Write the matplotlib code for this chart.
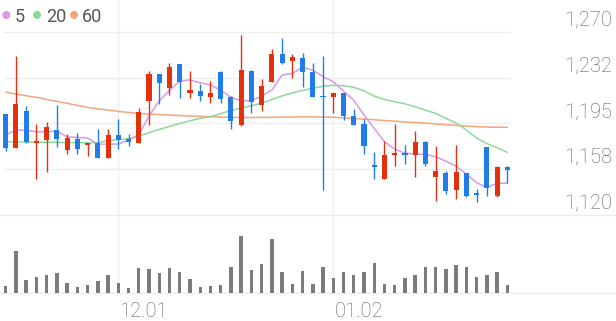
import matplotlib
matplotlib.use("Agg")
import matplotlib.pyplot as plt
from matplotlib.patches import Ellipse
from matplotlib.lines import Line2D

# ---------------- data ----------------
dates = ["11.16", "11.17", "11.20", "11.21", "11.22", "11.23", "11.24", "11.27", "11.28", "11.29",
         "11.30", "12.01", "12.04", "12.05", "12.06", "12.07", "12.08", "12.11", "12.12", "12.13",
         "12.14", "12.15", "12.18", "12.19", "12.20", "12.21", "12.22", "12.26", "12.27", "12.28",
         "12.29", "12.30", "01.02", "01.03", "01.04", "01.05", "01.08", "01.09", "01.10", "01.11",
         "01.12", "01.15", "01.16", "01.17", "01.18", "01.19", "01.22", "01.23", "01.24", "01.25"]

opens = [1202.3, 1175.0, 1205.3, 1179.2, 1181.8, 1189.4, 1173.0, 1182.3, 1176.9, 1179.1,
         1167.0, 1185.1, 1182.3, 1179.3, 1213.2, 1235.3, 1223.6, 1243.5, 1219.5, 1221.1,
         1216.7, 1237.2, 1216.7, 1193.5, 1238.0, 1209.9, 1229.0, 1251.7, 1246.2, 1248.2,
         1237.2, 1217.8, 1216.7, 1220.0, 1201.2, 1194.4, 1161.3, 1149.8, 1168.9, 1171.1,
         1168.9, 1179.9, 1150.8, 1154.5, 1140.8, 1154.0, 1137.7, 1175.3, 1135.5, 1159.5]
highs = [1203.0, 1250.1, 1209.1, 1194.9, 1196.0, 1209.9, 1186.2, 1187.5, 1179.1, 1190.0,
         1190.0, 1198.2, 1185.9, 1208.0, 1237.8, 1235.8, 1244.1, 1244.0, 1238.0, 1227.1,
         1229.9, 1237.5, 1217.2, 1267.3, 1238.6, 1231.0, 1255.5, 1265.1, 1252.2, 1252.8,
         1244.1, 1250.1, 1220.0, 1220.2, 1206.4, 1198.7, 1171.7, 1180.7, 1194.9, 1177.1,
         1188.9, 1180.2, 1176.7, 1156.1, 1177.1, 1154.3, 1141.0, 1175.8, 1160.0, 1159.8]
lows = [1172.5, 1174.5, 1179.3, 1149.8, 1155.0, 1175.5, 1170.3, 1170.3, 1168.1, 1166.8,
        1166.8, 1174.4, 1176.3, 1179.0, 1193.3, 1210.5, 1218.1, 1215.4, 1215.4, 1213.5,
        1211.8, 1211.8, 1190.8, 1192.7, 1203.6, 1205.3, 1228.8, 1244.0, 1232.3, 1224.4,
        1216.5, 1140.3, 1203.6, 1197.6, 1193.3, 1170.3, 1149.8, 1149.3, 1159.9, 1162.1,
        1151.2, 1159.9, 1131.6, 1137.0, 1133.5, 1134.9, 1130.8, 1135.5, 1135.0, 1146.4]
closes = [1175.0, 1210.5, 1180.1, 1180.0, 1192.2, 1182.6, 1183.4, 1174.1, 1179.1, 1167.0,
          1185.1, 1181.8, 1179.6, 1204.5, 1235.3, 1227.7, 1241.3, 1229.0, 1222.2, 1217.8,
          1220.0, 1214.8, 1197.1, 1238.6, 1212.6, 1225.5, 1251.7, 1244.6, 1249.5, 1237.2,
          1216.7, 1216.5, 1220.0, 1200.9, 1193.5, 1176.3, 1158.9, 1169.5, 1170.9, 1168.9,
          1179.9, 1161.6, 1156.2, 1139.7, 1155.3, 1135.4, 1136.0, 1141.8, 1159.5, 1156.8]

ma5 = [1185.4, 1189.5, 1189.5, 1188.1, 1188.1, 1188.7, 1184.0, 1183.5, 1183.0, 1178.0,
       1178.0, 1178.0, 1181.3, 1185.4, 1201.0, 1213.5, 1222.0, 1229.8, 1230.5, 1228.2,
       1226.4, 1222.3, 1216.3, 1213.5, 1213.5, 1217.3, 1222.3, 1234.5, 1235.9, 1240.8,
       1238.6, 1233.2, 1229.1, 1221.3, 1214.1, 1201.8, 1190.9, 1179.9, 1174.0, 1170.6,
       1169.8, 1169.6, 1167.7, 1164.0, 1160.0, 1153.5, 1146.5, 1142.5, 1146.0, 1146.0]
ma20 = [1180.0, 1179.8, 1179.7, 1179.6, 1179.5, 1179.4, 1179.3, 1179.2, 1179.1, 1179.3,
        1180.8, 1181.9, 1182.4, 1184.6, 1187.4, 1190.1, 1192.5, 1195.0, 1197.1, 1199.1,
        1200.5, 1203.0, 1205.5, 1207.5, 1209.5, 1211.5, 1214.5, 1217.5, 1220.0, 1222.0,
        1223.6, 1225.5, 1226.1, 1225.8, 1224.5, 1221.7, 1217.3, 1214.6, 1212.7, 1211.0,
        1208.6, 1205.8, 1203.2, 1199.1, 1195.3, 1189.5, 1183.0, 1178.5, 1175.0, 1171.3]
ma60 = [1220.6, 1219.0, 1217.6, 1216.3, 1214.6, 1213.0, 1211.4, 1209.7, 1208.1, 1206.9,
        1205.9, 1204.8, 1204.0, 1203.2, 1202.6, 1202.2, 1201.8, 1201.4, 1201.0, 1200.7,
        1200.4, 1200.2, 1200.0, 1199.8, 1199.8, 1199.9, 1200.0, 1200.1, 1200.2, 1200.3,
        1200.3, 1200.2, 1200.0, 1199.5, 1199.0, 1198.5, 1198.0, 1197.3, 1196.8, 1196.2,
        1195.7, 1195.2, 1194.6, 1194.0, 1193.4, 1192.8, 1192.3, 1192.0, 1191.8, 1191.8]

volumes = [22, 127, 40, 48, 55, 60, 29, 19, 25, 37,
           54, 31, 15, 74, 72, 60, 74, 64, 41, 18,
           20, 25, 79, 173, 70, 88, 162, 62, 28, 67,
           28, 77, 44, 62, 55, 62, 91, 27, 25, 44,
           54, 77, 79, 71, 84, 78, 47, 54, 63, 24]

price_ticks = [1120, 1157.5, 1195, 1232.5, 1270]
price_labels = ["1,120", "1,158", "1,195", "1,232", "1,270"]
legend_labels = ["5", "20", "60"]

# ---------------- style ----------------
W, H = 616, 321
UP = "#e5300d"
DOWN = "#1f7ce9"
MA_COLORS = ["#d89ae8", "#8fd89c", "#f7a47c"]
GRID = "#efefef"
TXT = "#5f5f5f"
FONT = "Roboto"

fig = plt.figure(figsize=(W / 100, H / 100), dpi=100)
fig.patch.set_facecolor("white")

def fx(px):
    return px / W

def fy(py):
    return 1 - py / H

left_px, right_px = 3, 511
price_top, price_bot = 0, 215
vol_top, vol_bot = 215, 293

ax = fig.add_axes([fx(left_px), fy(price_bot), (right_px - left_px) / W, (price_bot - price_top) / H])
axv = fig.add_axes([fx(left_px), fy(vol_bot), (right_px - left_px) / W, (vol_bot - vol_top) / H], sharex=ax)

n = len(closes)
xs = list(range(n))
xmin, xmax = -0.264, 49.36

for a in (ax, axv):
    a.set_facecolor("none")
    for s in a.spines.values():
        s.set_visible(False)
    a.tick_params(left=False, right=False, bottom=False, top=False,
                  labelleft=False, labelright=False, labelbottom=False)
    a.set_xlim(xmin, xmax)

ax.set_ylim(1120, 1296)
ax.set_yticks(price_ticks)

# tick positions where month changes
tick_idx = [i for i in range(1, n) if dates[i][:2] != dates[i - 1][:2]]

# price grid
for v in price_ticks[1:]:
    ax.axhline(v, color=GRID, lw=1.0, zorder=0)
for i in tick_idx:
    ax.axvline(i, color=GRID, lw=1.0, zorder=0)
    axv.axvline(i, color=GRID, lw=1.0, zorder=0)

# full-width separator lines
for py in (price_bot, vol_bot):
    fig.add_artist(Line2D([0, 1], [fy(py), fy(py)], transform=fig.transFigure,
                          color="#ececec", lw=1.0, zorder=0))

# MAs
for vals, c in zip([ma60, ma20, ma5], MA_COLORS[::-1]):
    ax.plot(xs, vals, color=c, lw=1.1, zorder=2, solid_capstyle="round")

# candles
body_w = 0.5
for i in range(n):
    o, h, l, c = opens[i], highs[i], lows[i], closes[i]
    col = UP if c >= o else DOWN
    ax.vlines(i, l, h, color=col, lw=1.0, zorder=3)
    bottom = min(o, c)
    height = max(abs(c - o), 1.2)
    ax.bar(i, height, bottom=bottom, width=body_w, color=col, edgecolor=col, lw=0, zorder=4)

# volume
axv.bar(xs, volumes, width=0.33, color="#7b7b7b", zorder=3)
axv.set_ylim(0, max(volumes) * 1.357)

# price labels on right
for v, lab in zip(price_ticks, price_labels):
    ax.annotate(lab, xy=(fx(612), v), xycoords=(fig.transFigure, ax.transData),
                xytext=(0, 6), textcoords="offset pixels", ha="right", va="baseline",
                fontsize=14.5, color=TXT, family=FONT, fontweight="light")

# date labels
for i in tick_idx:
    axv.annotate(dates[i], xy=(i, 0), xycoords=("data", "axes fraction"),
                 xytext=(1, -24), textcoords="offset pixels", ha="left", va="baseline",
                 fontsize=14.5, color=TXT, family=FONT, fontweight="light")

# legend
lx = [6.3, 37, 74]
tx = [15, 46, 82]
for cx, t, lab, col in zip(lx, tx, legend_labels, MA_COLORS):
    fig.add_artist(Ellipse((fx(cx), fy(15)), 8 / W, 8 / H, transform=fig.transFigure,
                           color=col, lw=0))
    fig.text(fx(t), fy(15), lab, ha="left", va="center_baseline", fontsize=13,
             color="#555555", family=FONT)

fig.savefig("out.png", dpi=100, facecolor="white")
